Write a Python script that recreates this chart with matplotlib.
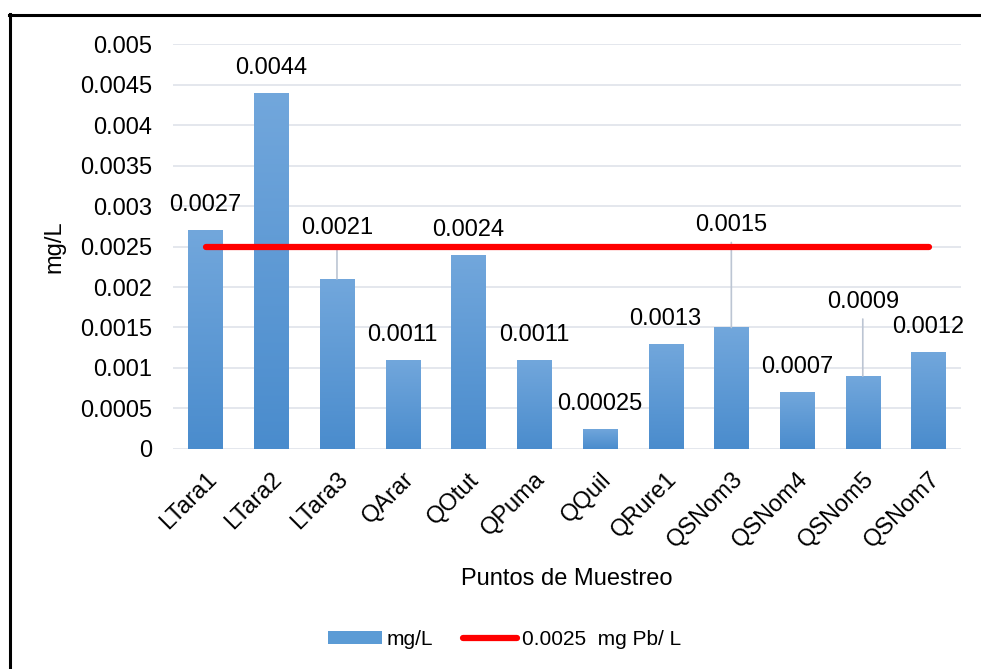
import numpy as np
import matplotlib.pyplot as plt
from matplotlib.lines import Line2D
from matplotlib.patches import Patch
from matplotlib.colors import LinearSegmentedColormap

plt.rcParams['font.family'] = ['Liberation Sans', 'DejaVu Sans']

# Sampling points and measured lead (mg/L)
puntos = ["LTara1", "LTara2", "LTara3", "QArar", "QOtut", "QPuma",
          "QQuil", "QRure1", "QSNom3", "QSNom4", "QSNom5", "QSNom7"]
valores = [0.0027, 0.0044, 0.0021, 0.0011, 0.0024, 0.0011,
           0.00025, 0.0013, 0.0015, 0.0007, 0.0009, 0.0012]
etiquetas = ["0.0027", "0.0044", "0.0021", "0.0011", "0.0024", "0.0011",
             "0.00025", "0.0013", "0.0015", "0.0007", "0.0009", "0.0012"]
limite = 0.0025   # mg Pb / L
y_ticks = [0, 0.0005, 0.001, 0.0015, 0.002, 0.0025, 0.003,
           0.0035, 0.004, 0.0045, 0.005]
y_ticklabels = ["0", "0.0005", "0.001", "0.0015", "0.002", "0.0025", "0.003",
                "0.0035", "0.004", "0.0045", "0.005"]

# label offset above bar top (pixels); some labels were dragged up with a leader line
label_offset = {2: 51, 8: 102, 10: 74}
default_offset = 25
px = 0.72  # points per pixel at 100 dpi

fig = plt.figure(figsize=(9.81, 6.69), dpi=100)
ax = fig.add_axes([0.176, 0.329, 0.804, 0.605])

x = np.arange(len(puntos))
width = 0.52
bars = ax.bar(x, valores, width=width, color="#5b9bd5", zorder=2)

# vertical gradient inside each bar
grad = np.linspace(0, 1, 256).reshape(-1, 1)
cmap = LinearSegmentedColormap.from_list("barras", ["#4a8ccd", "#72a7dc"])
for b in bars:
    b.set_facecolor("none")
    im = ax.imshow(grad, cmap=cmap, aspect="auto", origin="lower",
                   extent=[b.get_x(), b.get_x() + b.get_width(), 0, b.get_height()],
                   zorder=2)
    im.set_clip_path(b)

ax.plot([x[0], x[-1]], [limite, limite], color="#ff0000", lw=4.5,
        solid_capstyle="round", zorder=4)

for i, (v, t) in enumerate(zip(valores, etiquetas)):
    off = label_offset.get(i, default_offset)
    ax.annotate(t, (x[i], v), xytext=(0, off * px), textcoords="offset points",
                ha="center", va="center", fontsize=17, zorder=5)
    if i in label_offset:
        ax.annotate("", (x[i], v), xytext=(0, (off - 17) * px), textcoords="offset points",
                    arrowprops=dict(arrowstyle="-", color="#bcc5d3", lw=1.2,
                                    shrinkA=0, shrinkB=0), zorder=3)

ax.set_xlim(-0.5, len(puntos) - 0.5)
ax.set_ylim(0, 0.005)
ax.set_yticks(y_ticks)
ax.set_yticklabels(y_ticklabels, fontsize=17)
ax.set_xticks(x)
ax.set_xticklabels(puntos, fontsize=17, rotation=45, ha="right",
                   rotation_mode="anchor")
ax.tick_params(axis="both", length=0)
ax.tick_params(axis="x", pad=14)
ax.tick_params(axis="y", pad=15)
ax.grid(axis="y", color="#dfe3ea", lw=1.2, zorder=0)
ax.set_axisbelow(True)
for s in ax.spines.values():
    s.set_visible(False)

ax.set_xlabel("Puntos de Muestreo", fontsize=17, labelpad=11)
ax.set_ylabel("mg/L", fontsize=17, labelpad=10)

handles = [Patch(facecolor="#5b9bd5"),
           Line2D([0], [0], color="#ff0000", lw=4.5, solid_capstyle="round")]
fig.legend(handles, ["mg/L", "0.0025  mg Pb/ L"], loc="center",
           bbox_to_anchor=(0.514, 0.044), ncol=2, frameon=False, fontsize=15,
           handlelength=2.6, handleheight=0.6, columnspacing=1.47, handletextpad=0.2)

# outer frame (only left and top visible in the crop)
fig.add_artist(Line2D([0.0105, 0.0105], [0, 0.979], color="black", lw=2.2,
                      transform=fig.transFigure))
fig.add_artist(Line2D([0.0095, 1.0], [0.978, 0.978], color="black", lw=2.2,
                      transform=fig.transFigure))

fig.savefig("out.png", dpi=100)
